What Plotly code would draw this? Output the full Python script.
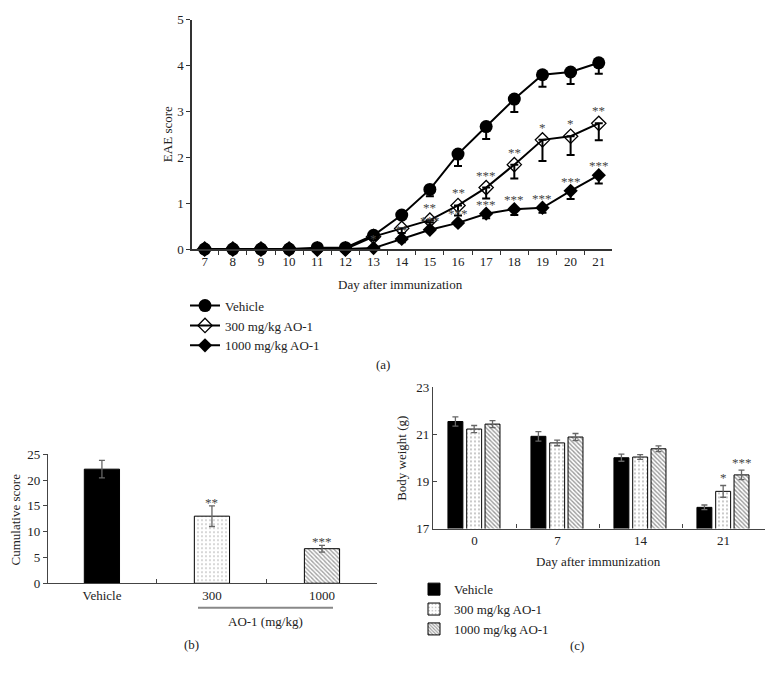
import plotly.graph_objects as go

# ---------------- data ----------------
days = ["7", "8", "9", "10", "11", "12", "13", "14", "15", "16", "17", "18", "19", "20", "21"]
vehicle = [0, 0, 0, 0, 0.03, 0.03, 0.30, 0.74, 1.30, 2.07, 2.67, 3.27, 3.80, 3.86, 4.06]
vehicle_err = [0, 0, 0, 0, 0, 0, 0.05, 0.06, 0.15, 0.26, 0.27, 0.28, 0.26, 0.26, 0.24]
ao300 = [0, 0, 0, 0, 0, 0, 0.27, 0.45, 0.63, 0.95, 1.34, 1.84, 2.38, 2.46, 2.74]
ao300_err = [0, 0, 0, 0, 0, 0, 0.03, 0.10, 0.05, 0.22, 0.24, 0.30, 0.46, 0.41, 0.37]
ao1000 = [0, 0, 0, 0, 0, 0, 0.02, 0.22, 0.42, 0.57, 0.77, 0.87, 0.90, 1.27, 1.61]
ao1000_err = [0, 0, 0, 0, 0, 0, 0, 0.07, 0.05, 0.05, 0.10, 0.13, 0.11, 0.18, 0.18]
stars300 = ["", "", "", "", "", "", "", "", "**", "**", "***", "**", "*", "*", "**"]
stars1000 = ["", "", "", "", "", "", "*", "**", "***", "***", "***", "***", "***", "***", "***"]

groups_b = ["Vehicle", "300", "1000"]
cumulative = [22.1, 13.0, 6.7]
cumulative_err = [1.7, 2.0, 0.65]
stars_b = ["", "**", "***"]

weight_days = ["0", "7", "14", "21"]
weight_vehicle = [21.55, 20.92, 20.01, 17.90]
weight_vehicle_err = [0.20, 0.20, 0.15, 0.10]
weight_300 = [21.23, 20.64, 20.04, 18.58]
weight_300_err = [0.15, 0.12, 0.10, 0.25]
weight_1000 = [21.44, 20.89, 20.39, 19.28]
weight_1000_err = [0.15, 0.15, 0.12, 0.20]
stars_c300 = ["", "", "", "*"]
stars_c1000 = ["", "", "", "***"]

series_names = ["Vehicle", "300 mg/kg AO-1", "1000 mg/kg AO-1"]

# ---------------- helpers ----------------
W, H = 772, 679
FONT = "Liberation Serif"
TXT = "#222222"
STAR = "#444444"
DOTS = dict(shape=".", fgcolor="black", bgcolor="white", size=4, solidity=0.12)
HATCH = dict(shape="\\", fgcolor="#333333", bgcolor="white", size=3, solidity=0.45)
SOLID = dict(shape="", fgcolor="black", bgcolor="black")


def px(x):
    return x / W


def py(y):
    return 1 - y / H


fig = go.Figure()

# ---------------- panel (a) ----------------
line_specs = [
    (vehicle, vehicle_err, dict(symbol="circle", size=13, color="black")),
    (ao300, ao300_err, dict(symbol="diamond-open", size=11, color="black", line=dict(width=1.3))),
    (ao1000, ao1000_err, dict(symbol="diamond", size=11, color="black")),
]
for (vals, errs, mk), name in zip(line_specs, series_names):
    fig.add_trace(go.Scatter(
        x=days, y=vals, name=name, mode="lines+markers",
        line=dict(color="black", width=2), marker=mk,
        error_y=dict(type="data", symmetric=False, array=[0] * len(errs), arrayminus=errs,
                     color="black", thickness=2, width=4),
        cliponaxis=False, xaxis="x", yaxis="y", legend="legend",
    ))

for lbls, vals, ys in ((stars300, ao300, 3), (stars1000, ao1000, 0)):
    for i, s in enumerate(lbls):
        if s:
            fig.add_annotation(x=i, y=vals[i], xref="x", yref="y", text=s, showarrow=False,
                               yshift=ys, yanchor="bottom",
                               font=dict(family=FONT, size=13, color=STAR))

# ---------------- panel (b) ----------------
patterns_b = [SOLID, DOTS, HATCH]
fig.add_trace(go.Bar(
    x=groups_b, y=cumulative, width=0.32, showlegend=False,
    marker=dict(color=[p["bgcolor"] for p in patterns_b], line=dict(color="black", width=1),
                pattern=dict(shape=[p["shape"] for p in patterns_b],
                             fgcolor=[p["fgcolor"] for p in patterns_b],
                             bgcolor=[p["bgcolor"] for p in patterns_b],
                             size=[p.get("size", 4) for p in patterns_b],
                             solidity=[p.get("solidity", 0.3) for p in patterns_b])),
    error_y=dict(type="data", array=cumulative_err, color="#666666", thickness=1.3, width=3),
    xaxis="x2", yaxis="y2",
))
for i, s in enumerate(stars_b):
    if s:
        fig.add_annotation(x=i, y=cumulative[i] + cumulative_err[i], xref="x2", yref="y2", text=s,
                           showarrow=False, yanchor="bottom", yshift=-6,
                           font=dict(family=FONT, size=13, color=STAR))

# ---------------- panel (c) ----------------
bar_specs = [
    (weight_vehicle, weight_vehicle_err, SOLID, -0.32),
    (weight_300, weight_300_err, DOTS, -0.094),
    (weight_1000, weight_1000_err, HATCH, 0.127),
]
for (vals, errs, pat, off), name in zip(bar_specs, series_names):
    fig.add_trace(go.Bar(
        x=weight_days, y=vals, name=name, width=0.18, offset=off,
        marker=dict(color=pat["bgcolor"], line=dict(color="black", width=1), pattern=pat),
        error_y=dict(type="data", array=errs, color="#666666", thickness=1.3, width=3),
        xaxis="x3", yaxis="y3", legend="legend2",
    ))

for lbls, vals, errs, off in ((stars_c300, weight_300, weight_300_err, -0.094),
                              (stars_c1000, weight_1000, weight_1000_err, 0.127)):
    for i, s in enumerate(lbls):
        if s:
            fig.add_annotation(x=i + off + 0.09, y=vals[i] + errs[i], xref="x3", yref="y3", text=s,
                               showarrow=False, yanchor="bottom", yshift=-2,
                               font=dict(family=FONT, size=13, color=STAR))

# ---------------- text labels ----------------
labels = [
    ("EAE score", 167, 130, -90),
    ("Day after immunization", 401, 284, 0),
    ("(a)", 383, 366, 0),
    ("Cumulative score", 15, 524, -90),
    ("AO-1 (mg/kg)", 265, 628, 0),
    ("(b)", 191, 652, 0),
    ("Body weight (g)", 402, 461, -90),
    ("Day after immunization", 598, 567, 0),
    ("(c)", 577, 653, 0),
]
for t, x, y, ang in labels:
    fig.add_annotation(x=px(x), y=py(y), xref="paper", yref="paper", text=t, showarrow=False,
                       textangle=ang, xanchor="center", yanchor="middle",
                       font=dict(family=FONT, size=13, color=TXT))

fig.add_shape(type="line", xref="paper", yref="paper", x0=px(198), x1=px(333),
              y0=py(614.3), y1=py(614.3), line=dict(color="#888888", width=2))

# ---------------- axes ----------------
axfont = dict(family=FONT, size=13, color=TXT)
common = dict(showgrid=False, zeroline=False, showline=True, tickfont=axfont, fixedrange=True)

fig.update_layout(
    width=W, height=H, margin=dict(l=0, r=0, t=0, b=0),
    paper_bgcolor="white", plot_bgcolor="white",
    font=dict(family=FONT, size=13, color=TXT),
    barmode="overlay",
    xaxis=dict(domain=[px(192), px(612)], type="category", range=[-0.45, 14.47], tickson="boundaries",
               ticks="outside", ticklen=4, linecolor="#333333", linewidth=1.5, tickcolor="#333333",
               anchor="y", **common),
    yaxis=dict(domain=[py(247.5), py(13)], range=[0, 5], dtick=1, ticks="outside", ticklen=4,
               linecolor="#333333", linewidth=1.5, tickcolor="#333333", anchor="x", **common),
    xaxis2=dict(domain=[px(48), px(377)], type="category", range=[-0.49, 2.5], tickson="boundaries",
                ticks="inside", ticklen=4, linecolor="#444444", linewidth=1.2, tickcolor="#444444",
                anchor="y2", **common),
    yaxis2=dict(domain=[py(589.3), py(457.3)], range=[0, 25], dtick=5, ticks="outside", ticklen=4,
                linecolor="#444444", linewidth=1.2, tickcolor="#444444", anchor="x2", **common),
    xaxis3=dict(domain=[px(433), px(765)], type="category", range=[-0.5, 3.5], tickson="boundaries",
                ticks="inside", ticklen=4, linecolor="#444444", linewidth=1.2, tickcolor="#444444",
                anchor="y3", **common),
    yaxis3=dict(domain=[py(533.3), py(389)], range=[17, 23], tickvals=[17, 19, 21, 23], ticks="inside",
                ticklen=4, linecolor="#444444", linewidth=1.2, tickcolor="#444444", anchor="x3", **common),
    legend=dict(x=px(185), y=py(290), xanchor="left", yanchor="top", bgcolor="rgba(0,0,0,0)",
                font=dict(family=FONT, size=13, color=TXT), tracegroupgap=0, itemclick=False),
    legend2=dict(x=px(414), y=py(580), xanchor="left", yanchor="top", bgcolor="rgba(0,0,0,0)",
                 font=dict(family=FONT, size=13, color=TXT), tracegroupgap=0, itemclick=False),
    showlegend=True,
)

fig.write_html("out.html", config={"displayModeBar": False},
               post_script="document.body.style.margin='0';document.body.style.overflow='hidden';")
